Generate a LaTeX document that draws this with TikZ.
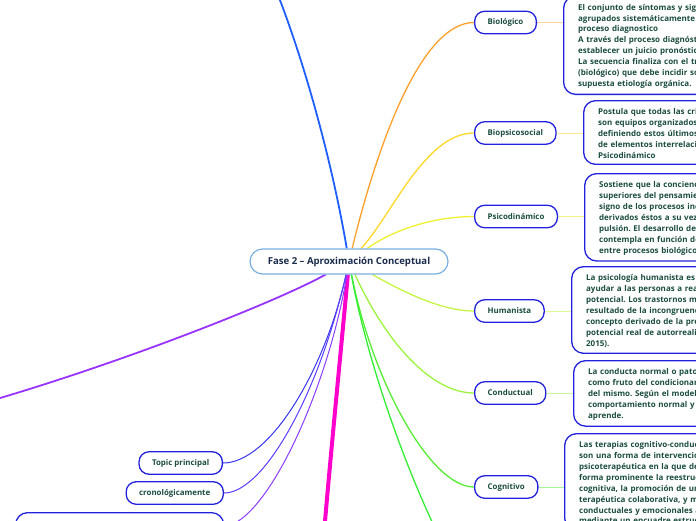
\documentclass[tikz,border=0pt]{standalone}
\usepackage{fontspec}
\setmainfont{Open Sans}
\usetikzlibrary{backgrounds}
\frenchspacing
\definecolor{cblue}{HTML}{7AB0E0}
\definecolor{nblue}{HTML}{2222DD}
\definecolor{navy}{HTML}{1A2B4C}
\definecolor{tgreen}{HTML}{1B4D3E}
\definecolor{cup}{HTML}{1F5FFF}
\definecolor{corange}{HTML}{FFA02A}
\definecolor{lorange}{HTML}{FFD49A}
\definecolor{cgold}{HTML}{FFD829}
\definecolor{lgold}{HTML}{FFE98A}
\definecolor{cyel}{HTML}{EEF030}
\definecolor{lyel}{HTML}{F2F58A}
\definecolor{clime}{HTML}{C4F542}
\definecolor{llime}{HTML}{DDF99A}
\definecolor{clgreen}{HTML}{9CF53C}
\definecolor{llgreen}{HTML}{C6F99A}
\definecolor{cgreen}{HTML}{55EE33}
\definecolor{lgreen}{HTML}{A6F69A}
\definecolor{cgreenb}{HTML}{33EE33}
\definecolor{cmag}{HTML}{FF00CC}
\definecolor{cpurple}{HTML}{9933FF}
\definecolor{ctopic}{HTML}{3535EE}
\definecolor{ccrono}{HTML}{5A3CFF}
\definecolor{cbox}{HTML}{8A3CFF}
\tikzset{
  cnode/.style={draw=cblue, line width=1.2pt, rounded corners=12.5pt, fill=white,
    minimum width=198pt, minimum height=25pt, inner sep=0pt,
    font=\bfseries\fontsize{9.6}{11}\selectfont, text=navy},
  lone/.style={draw=nblue, line width=1.3pt, rounded corners=10pt, fill=white,
    minimum height=22.5pt, inner xsep=13pt, inner ysep=0pt,
    font=\bfseries\fontsize{7.9}{10}\selectfont, text=tgreen},
  ltwo/.style={draw=nblue, line width=1.3pt, rounded corners=12pt, fill=white,
    anchor=north west, text width=260pt, inner xsep=14.5pt, inner ysep=6pt,
    align=left, font=\bfseries\fontsize{8}{10.9}\selectfont, text=tgreen},
  lbox/.style={draw=nblue, line width=1.3pt, rounded corners=12pt, fill=white},
  branch/.style={line width=1.3pt},
  twig/.style={line width=1pt}
}
\newcommand{\fst}{\rule{0pt}{8pt}}
\begin{document}
\begin{tikzpicture}[x=1pt,y=-1pt]
\useasboundingbox (0,0) rectangle (696,520);
% central
\node[cnode] (cen) at (349,261.5) {Fase 2 -- Aproximación Conceptual};
% level one right
\node[lone, anchor=west] (bio) at (474,22.5) {Biológico};
\node[lone, anchor=west] (bps) at (474,133) {Biopsicosocial};
\node[lone, anchor=west] (psi) at (474,216.5) {Psicodinámico};
\node[lone, anchor=west] (hum) at (474,311) {Humanista};
\node[lone, anchor=west] (con) at (474,393) {Conductual};
\node[lone, anchor=west] (cog) at (474,487) {Cognitivo};
% level one left
\node[lone, anchor=east] (topic) at (223,463) {Topic principal};
\node[lone, anchor=east] (crono) at (224,493) {cronológicamente};
\node[lbox, anchor=north west, minimum width=208pt, minimum height=60pt] (bigB) at (15,512) {};
% level two boxes
\node[ltwo] (bioB) at (563,-4.5) {\fst El conjunto de síntomas y signos\\
agrupados sistemáticamente\\
proceso diagnostico\\
A través del proceso diagnóstico\\
establecer un juicio pronóstico\\
La secuencia finaliza con el tratamiento\\
(biológico) que debe incidir sobre\\
supuesta etiología orgánica.};
\node[ltwo] (bpsB) at (583,100) {\fst Postula que todas las criaturas\\
son equipos organizados\\
definiendo estos últimos\\
de elementos interrelacionados\\
Psicodinámico};
\node[ltwo] (psiB) at (584,173) {\fst Sostiene que la conciencia\\
superiores del pensamiento\\
signo de los procesos inconscientes\\
derivados éstos a su vez\\
pulsión. El desarrollo de\\
contempla en función de\\
entre procesos biológicos};
\node[ltwo] (humB) at (571,266) {\fst La psicología humanista es\\
ayudar a las personas a realizar\\
potencial. Los trastornos mentales\\
resultado de la incongruencia\\
concepto derivado de la presión\\
potencial real de autorrealización\\
2015).};
\node[ltwo] (conB) at (573,360) {\fst La conducta normal o patológica\\
como fruto del condicionamiento\\
del mismo. Según el modelo\\
comportamiento normal y el\\
aprende.};
\node[ltwo] (cogB) at (564,433) {\fst Las terapias cognitivo-conductuales\\
son una forma de intervención\\
psicoterapéutica en la que destaca\\
forma prominente la reestructuración\\
cognitiva, la promoción de una\\
terapéutica colaborativa, y métodos\\
conductuales y emocionales asociados\\
mediante un encuadre estructurado};
% off-frame ends
\coordinate (upend) at (276,-10);
\coordinate (leftend) at (-10,401);
\coordinate (magend) at (323,545);
\coordinate (greenend) at (448,555);
\begin{scope}[on background layer]
\draw[cup, line width=1.8pt] (cen) .. controls (330,150) and (300,50) .. (upend);
\draw[corange, branch] (cen) .. controls (376,150) and (420,22.5) .. (bio);
\draw[cgold, branch] (cen) .. controls (392,215) and (425,133) .. (bps);
\draw[cyel, branch] (cen) .. controls (390,232) and (430,216.5) .. (psi);
\draw[clime, branch] (cen) .. controls (400,290) and (440,311) .. (hum);
\draw[clgreen, branch] (cen) .. controls (385,340) and (430,393) .. (con);
\draw[cgreen, branch] (cen) .. controls (372,380) and (430,487) .. (cog);
\draw[cgreenb, branch] (cen) .. controls (365,350) and (400,460) .. (greenend);
\draw[cmag, line width=4pt] (cen) .. controls (342,340) and (330,460) .. (magend);
\draw[cpurple, line width=1.8pt] (cen) .. controls (280,300) and (130,360) .. (leftend);
\draw[ctopic, twig] (cen) .. controls (325,370) and (270,463) .. (topic);
\draw[ccrono, twig] (cen) .. controls (320,390) and (265,493) .. (crono);
\draw[cbox, twig] (cen) .. controls (330,380) and (270,520) .. (bigB);
\draw[lorange, twig] (bio) -- (bio.east -| bioB.west);
\draw[lgold, twig] (bps) -- (bps.east -| bpsB.west);
\draw[lyel, twig] (psi) -- (psi.east -| psiB.west);
\draw[llime, twig] (hum) -- (hum.east -| humB.west);
\draw[llgreen, twig] (con) -- (con.east -| conB.west);
\draw[lgreen, twig] (cog) -- (cog.east -| cogB.west);
\end{scope}
\end{tikzpicture}
\end{document}
